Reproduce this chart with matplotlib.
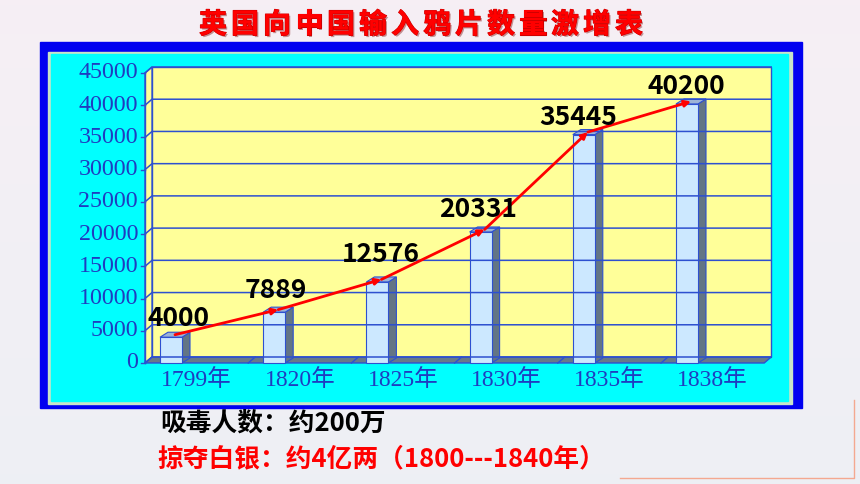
import numpy as np
import matplotlib.pyplot as plt
from matplotlib.patches import Polygon, Rectangle
import matplotlib.patheffects as pe

plt.rcParams['font.family'] = ['Noto Sans CJK SC', 'DejaVu Sans']

# data
years = ['1799年', '1820年', '1825年', '1830年', '1835年', '1838年']
chests = [4000, 7889, 12576, 20331, 35445, 40200]
y_ticks = [0, 5000, 10000, 15000, 20000, 25000, 30000, 35000, 40000, 45000]
title = '英国向中国输入鸦片数量激增表'
note1 = '吸毒人数：约200万'
note2 = '掠夺白银：约4亿两（1800---1840年）'

# label nudges in pixels (manual placement like the original slide)
label_nudge = [(4, 9), (-2, 12), (-1, 17), (-7, 12), (-10, 7), (-5, 7)]

W, H = 860, 484
fig = plt.figure(figsize=(8.6, 4.84), dpi=100)
fig.patch.set_facecolor('#f3eff4')

# background / frame in pixel coords
bg = fig.add_axes([0, 0, 1, 1])
bg.set_xlim(0, W)
bg.set_ylim(H, 0)
bg.axis('off')
grad = np.linspace(0, 1, 100).reshape(-1, 1)
top_c = np.array([0.965, 0.937, 0.960])
bot_c = np.array([0.933, 0.941, 0.957])
bg.imshow(top_c + grad[:, :, None] * (bot_c - top_c), extent=(0, W, H, 0), aspect='auto')
bg.add_patch(Rectangle((40, 42), 762, 366, color='#0000f0'))
bg.add_patch(Rectangle((48, 52), 744, 351.5, color='#c8e4c8'))
bg.add_patch(Rectangle((51, 54), 737, 347, color='#00ffff'))
bg.plot([620, 854, 854], [478, 478, 400], color='#f4a890', lw=1)

for k, ch in enumerate(title):
    bg.text(213 + 32 * k, 25, ch, ha='center', va='center', color='#ff0000', fontsize=20,
            fontweight='bold',
            path_effects=[pe.withSimplePatchShadow(offset=(1.2, -1.2), shadow_rgbFace='#a05050', alpha=0.6),
                          pe.withStroke(linewidth=0.8, foreground='#d00000')])
bg.text(160, 423, note1, ha='left', va='center', color='black', fontsize=18.5, fontweight='bold')
bg.text(157, 459, note2, ha='left', va='center', color='#ff0000', fontsize=18.5, fontweight='bold')

# chart axes (front plane)
slot = 103.2
px_y = 290 / 45000.0
ax = fig.add_axes([145 / W, (H - 363) / H, 6 * slot / W, 290 / H])
ax.set_xlim(0, 6)
ax.set_ylim(0, 45000)
ax.axis('off')

DX = 7 / slot
DY = 6 / px_y
edge = '#2d50d0'
yellow = '#ffff99'

# back wall, left wall, floor
ax.add_patch(Polygon([(DX, DY), (6 + DX, DY), (6 + DX, 45000 + DY), (DX, 45000 + DY)],
                     closed=True, facecolor=yellow, edgecolor=edge, lw=1, clip_on=False))
ax.add_patch(Polygon([(0, 0), (DX, DY), (DX, 45000 + DY), (0, 45000)],
                     closed=True, facecolor=yellow, edgecolor=edge, lw=1, clip_on=False))
ax.add_patch(Polygon([(0, 0), (6, 0), (6 + DX, DY), (DX, DY)],
                     closed=True, facecolor='#687a88', edgecolor=edge, lw=1, clip_on=False))
for i in range(1, 6):
    ax.plot([i, i + DX], [0, DY], color=edge, lw=1, clip_on=False)

# gridlines and ticks
for v in y_ticks:
    ax.plot([0, DX, 6 + DX], [v, v + DY, v + DY], color=edge, lw=1.1, clip_on=False)
    ax.plot([-4 / slot, 0], [v, v], color=edge, lw=1, clip_on=False)
    ax.annotate(str(v), (0, v), xytext=(-7, 0), textcoords='offset pixels',
                ha='right', va='center', color='#1f3cc0', fontsize=17.3,
                family=['Liberation Serif', 'Noto Sans CJK SC'])
ax.plot([0, 0], [0, 45000], color=edge, lw=1, clip_on=False)

# bars
bw = 22 / slot
bdx = 8 / slot
bdy = 5 / px_y
pts = []
for i, v in enumerate(chests):
    x0 = i + 15 / slot
    ax.add_patch(Polygon([(x0 + bw, 0), (x0 + bw + bdx, bdy), (x0 + bw + bdx, v + bdy), (x0 + bw, v)],
                         closed=True, facecolor='#637585', edgecolor=edge, lw=0.8, clip_on=False))
    ax.add_patch(Polygon([(x0, v), (x0 + bw, v), (x0 + bw + bdx, v + bdy), (x0 + bdx, v + bdy)],
                         closed=True, facecolor='#9db4d6', edgecolor=edge, lw=0.8, clip_on=False))
    ax.add_patch(Rectangle((x0, 0), bw, v, facecolor='#cce8ff', edgecolor=edge, lw=0.8, clip_on=False))
    pts.append((x0 + bw / 2 + bdx / 2, v + bdy / 2))

# red trend line with small arrows
for a, b in zip(pts[:-1], pts[1:]):
    ax.annotate('', xy=b, xytext=a,
                arrowprops=dict(arrowstyle='-|>', color='#ff0000', lw=2,
                                mutation_scale=9, shrinkA=0, shrinkB=0))

# value labels
for (px, py), v, (nx, ny) in zip(pts, chests, label_nudge):
    ax.annotate(str(v), (px, py), xytext=(nx, ny), textcoords='offset pixels',
                ha='center', va='baseline', fontsize=19, fontweight='bold', color='black')

# category labels
for i, lab in enumerate(years):
    ax.annotate(lab, (i + 0.5, 0), xytext=(0, -17), textcoords='offset pixels',
                ha='center', va='center', color='#1f3cc0', fontsize=17,
                family=['Liberation Serif', 'Noto Sans CJK SC'])

plt.savefig('out.png', dpi=100, facecolor=fig.get_facecolor())
